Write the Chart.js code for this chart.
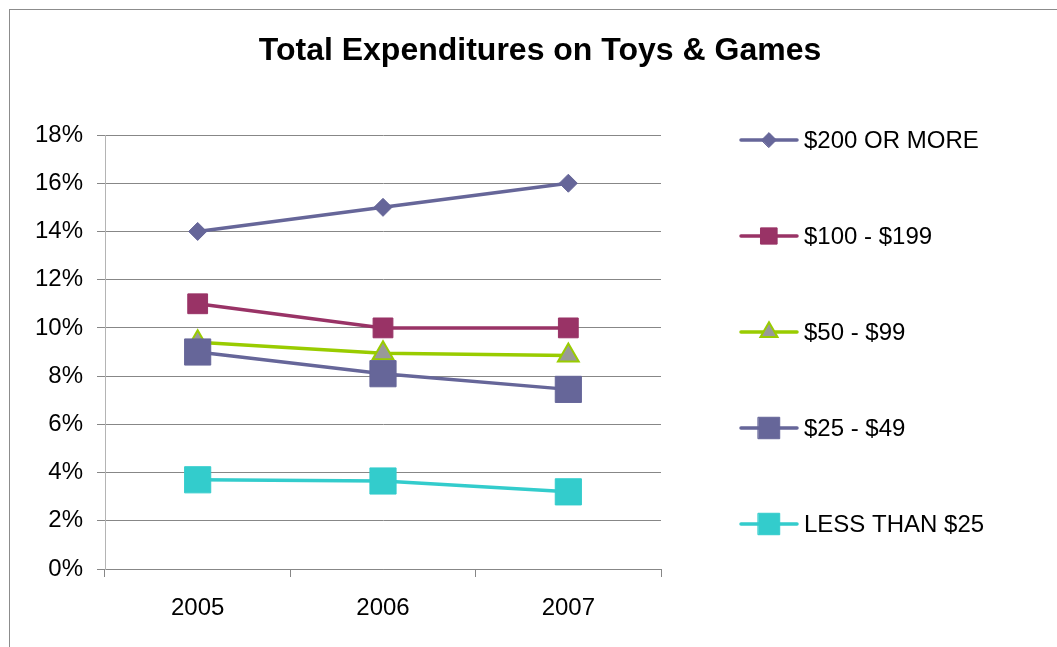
<!DOCTYPE html>
<html>
<head>
<meta charset="utf-8">
<script src="https://cdn.jsdelivr.net/npm/chart.js@4.4.1/dist/chart.umd.min.js"></script>
<style>
  html, body { margin: 0; padding: 0; background: #fff; }
  canvas { display: block; }
</style>
</head>
<body>
<canvas id="toysChart" width="1057" height="647"></canvas>
<script>
// share of households by spend bracket, per year
const years = ['2005', '2006', '2007'];
const seriesNames = ['$200 OR MORE', '$100 - $199', '$50 - $99', '$25 - $49', 'LESS THAN $25'];
const over200 = [14, 15, 16];
const from100 = [11, 10, 10];
const from50 = [9.4, 8.95, 8.85];
const from25 = [9.0, 8.1, 7.45];
const under25 = [3.7, 3.65, 3.2];
const yTicks = [0, 2, 4, 6, 8, 10, 12, 14, 16, 18];

const fontName = "'Liberation Sans', Arial, sans-serif";
const gridGray = '#878787';

function series(i, data, color, style, radius, fill, bw) {
  return {
    label: seriesNames[i],
    data: data,
    borderColor: color,
    backgroundColor: color,
    borderWidth: 3.5,
    pointStyle: style,
    pointRadius: radius,
    pointHoverRadius: radius,
    pointBackgroundColor: fill || color,
    pointBorderColor: color,
    pointBorderWidth: bw || 1,
    order: 5 - i,
    tension: 0
  };
}

// outer frame + title
const framePlugin = {
  id: 'frame',
  beforeDraw(chart) {
    const c = chart.ctx;
    c.save();
    c.fillStyle = '#fff';
    c.fillRect(0, 0, chart.width, chart.height);
    c.strokeStyle = '#8c8c8c';
    c.lineWidth = 1;
    c.strokeRect(9.5, 9.5, chart.width + 10, chart.height + 10);
    c.fillStyle = '#000';
    c.font = 'bold 32px ' + fontName;
    c.textAlign = 'center';
    c.textBaseline = 'middle';
    c.fillText('Total Expenditures on Toys & Games', 540, 51);
    c.restore();
  }
};

// legend on the right: line + marker + label per series
const sideLegend = {
  id: 'sideLegend',
  afterDraw(chart) {
    const c = chart.ctx;
    const drawPoint = Chart.helpers.drawPoint;
    chart.data.datasets.forEach((ds, i) => {
      const y = 140 + i * 96;
      c.save();
      c.strokeStyle = ds.borderColor;
      c.lineWidth = 3.5;
      c.lineCap = 'round';
      c.beginPath();
      c.moveTo(741, y);
      c.lineTo(797, y);
      c.stroke();
      c.fillStyle = ds.pointBackgroundColor;
      c.strokeStyle = ds.pointBorderColor;
      c.lineWidth = ds.pointBorderWidth;
      drawPoint(c, {
        pointStyle: ds.pointStyle,
        radius: ds.pointRadius * 0.82,
        borderWidth: ds.pointBorderWidth,
        rotation: 0
      }, 769, y);
      c.fillStyle = '#000';
      c.font = '24px ' + fontName;
      c.textAlign = 'left';
      c.textBaseline = 'middle';
      c.fillText(ds.label, 804, y + 1);
      c.restore();
    });
  }
};

new Chart(document.getElementById('toysChart'), {
  type: 'line',
  data: {
    labels: years,
    datasets: [
      series(0, over200, '#666699', 'rectRot', 9),
      series(1, from100, '#993366', 'rect', 14),
      series(2, from50, '#99cc00', 'triangle', 12, '#999999', 2),
      series(3, from25, '#666699', 'rect', 18.5),
      series(4, under25, '#33cccc', 'rect', 18.5)
    ]
  },
  options: {
    responsive: false,
    animation: false,
    layout: {
      padding: { left: 0, right: 396, top: 135, bottom: 0 }
    },
    plugins: {
      legend: { display: false },
      title: { display: false },
      tooltip: { enabled: false }
    },
    scales: {
      x: {
        offset: true,
        afterFit(scale) { scale.height = 78; },
        border: { display: true, color: gridGray, width: 1 },
        grid: {
          offset: true,
          drawOnChartArea: false,
          drawTicks: true,
          tickLength: 8,
          color: gridGray
        },
        ticks: {
          color: '#000',
          padding: 17,
          font: { family: fontName, size: 24 }
        }
      },
      y: {
        min: 0,
        max: 18,
        afterFit(scale) { scale.width = 105; },
        afterBuildTicks(scale) {
          scale.ticks = yTicks.map(v => ({ value: v }));
        },
        border: { display: true, color: '#b4b4b4', width: 1 },
        grid: {
          color: gridGray,
          drawTicks: true,
          tickLength: 8,
          tickColor: gridGray
        },
        ticks: {
          color: '#000',
          padding: 14,
          font: { family: fontName, size: 24 },
          callback: v => v + '%'
        }
      }
    }
  },
  plugins: [framePlugin, sideLegend]
});
</script>
</body>
</html>
